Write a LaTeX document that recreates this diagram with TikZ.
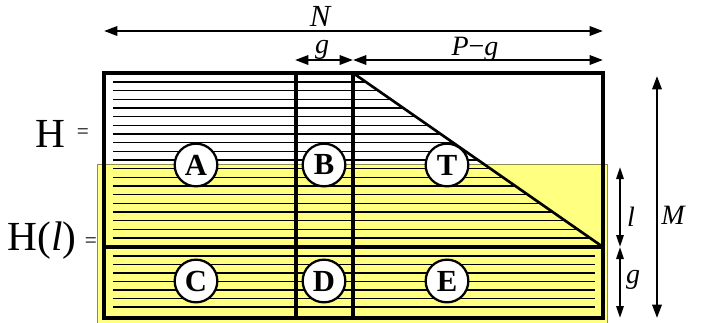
\documentclass[tikz,border=0pt]{standalone}
\usepackage{fontspec}
\setmainfont{Liberation Serif}
\usetikzlibrary{arrows.meta,positioning}
\definecolor{layeryellow}{HTML}{FFFF80}
\definecolor{layeredge}{HTML}{8C8C50}

\begin{document}
\begin{tikzpicture}[
  x=0.75pt, y=-0.75pt,
  cell/.style={draw, line width=2.8pt},
  hatch/.style={line width=0.9pt},
  tag/.style={draw, circle, fill=white, line width=1.7pt,
              minimum size=32pt, inner sep=0pt,
              font=\fontsize{23}{23}\selectfont\bfseries},
  dim/.style={{Triangle[length=10pt,width=7pt]}-{Triangle[length=10pt,width=7pt]},
              line width=1.7pt},
  vdim/.style={{Triangle[length=9pt,width=5.5pt]}-{Triangle[length=9pt,width=5.5pt]},
               line width=1.5pt},
  lbl/.style={font=\fontsize{21}{21}\selectfont\itshape, inner sep=0pt},
  big/.style={font=\fontsize{31}{31}\selectfont, inner sep=1pt},
  eq/.style={font=\fontsize{16}{16}\selectfont, inner sep=1pt},
]
  \useasboundingbox (0,0) rectangle (704,322);

  %% Corners of the matrix and the cuts
  \coordinate (nw) at (104,73);   \coordinate (ne) at (603,73);
  \coordinate (sw) at (104,318);  \coordinate (se) at (603,318);
  \coordinate (midL) at (104,247); \coordinate (midR) at (603,247);
  \coordinate (cutA) at (296,73); \coordinate (cutAb) at (296,318);
  \coordinate (cutB) at (353,73); \coordinate (cutBb) at (353,318);

  %% Shifted window H(l)
  \fill[layeryellow, draw=layeredge, line width=0.7pt]
    (97.5,164) rectangle (607,326);

  %% Hatching of the upper block, cut by the diagonal
  \begin{scope}
    \clip (nw) -- (cutB) -- (midR) -- (midL) -- cycle;
    \foreach \i in {0,...,18}
      \draw[hatch] (113,82+8.67*\i) -- (603,82+8.67*\i);
  \end{scope}

  %% Hatching of the lower block
  \foreach \i in {0,...,6}
    \draw[hatch] (113,256+8.5*\i) -- (595,256+8.5*\i);

  %% Block borders
  \draw[cell] (nw) rectangle (se);
  \draw[cell] (cutA) -- (cutAb);
  \draw[cell] (cutB) -- (cutBb);
  \draw[cell, line width=3.4pt] (midL) -- (midR);
  \draw[line width=2pt] (cutB) -- (midR);

  %% Block tags
  \node[tag] (tA) at (196,165) {A};
  \node[tag] (tB) at (324,165) {B};
  \node[tag] (tT) at (447,165) {T};
  \node[tag] (tC) at (196,281) {C};
  \node[tag] (tD) at (324,281) {D};
  \node[tag] (tE) at (447,281) {E};

  %% Left names
  \node[big] (hName) at (50,134) {H};
  \node[eq] (hEq) at (83,134) {=};
  \node[big] (hlName) at (42,241) {H(\textit{l})};
  \node[eq] (hlEq) at (91,243) {=};

  %% Horizontal dimensions
  \coordinate (nL) at (104,31);  \coordinate (nR) at (603,31);
  \coordinate (gL) at (295,60);  \coordinate (gR) at (353,60);
  \coordinate (pR) at (603,60);
  \draw[dim] (nL) -- (nR);
  \draw[dim] (gL) -- (gR);
  \draw[dim] (gR) -- (pR);
  \node[lbl, font=\fontsize{23}{23}\selectfont\itshape] (nLbl) at (320,16) {N};
  \node[lbl] (gLbl) at (322,50) {g};
  \node[lbl] (pLbl) at (475,49) {P\textup{−}g};

  %% Vertical dimensions
  \coordinate (mT) at (657,76);  \coordinate (mB) at (657,318);
  \coordinate (lT) at (620,167); \coordinate (lB) at (620,247);
  \coordinate (gB) at (620,318);
  \draw[dim] (mT) -- (mB);
  \draw[vdim] (lT) -- (lB);
  \draw[vdim] (lB) -- (gB);
  \node[lbl] (mLbl) at (673,215) {M};
  \node[lbl] (lLbl) at (631,217) {l};
  \node[lbl] (g2Lbl) at (633,280) {g};
\end{tikzpicture}
\end{document}
